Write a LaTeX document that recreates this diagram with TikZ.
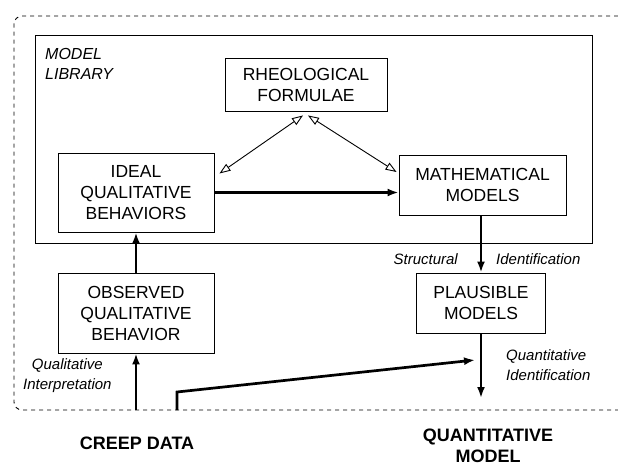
\documentclass[tikz,border=0pt]{standalone}
\usepackage{fontspec}
\setmainfont{Liberation Sans}
\setsansfont{Liberation Sans}
\usetikzlibrary{arrows.meta,calc}
\tikzset{
  box/.style={draw, line width=0.9pt, align=center, inner sep=0pt,
    font=\fontsize{17.5}{21}\selectfont},
  thickarrow/.style={line width=2.7pt, -{Latex[length=11pt,width=8pt]}},
  openarrow/.style={line width=0.9pt, {Triangle[open,length=11pt,width=8pt,line width=0.9pt]}-{Triangle[open,length=11pt,width=8pt,line width=0.9pt]}},
  lbl/.style={font=\fontsize{15}{20}\selectfont\itshape, inner sep=0pt},
  big/.style={font=\fontsize{18}{21.5}\selectfont\bfseries, align=center, inner sep=0pt}
}
\begin{document}
\begin{tikzpicture}[x=1pt,y=-1pt]
\useasboundingbox (0,0) rectangle (618,466);
% outer dashed frame
\draw[dash pattern=on 4pt off 4pt, line width=0.9pt, rounded corners=8pt]
  (618,16) -- (14,16) -- (14,410) -- (618,410);
% model library frame
\draw[line width=1pt] (35,35) rectangle (592,243);
\node[lbl, anchor=north west, align=left, font=\fontsize{16}{20}\selectfont\itshape] (lib) at (45,48) {MODEL\\LIBRARY};

\node[box, minimum width=162pt, minimum height=53pt] (rheo) at (306,84.5) {RHEOLOGICAL\\FORMULAE};
\node[box, minimum width=156pt, minimum height=79pt] (ideal) at (136,192.5) {IDEAL\\QUALITATIVE\\BEHAVIORS};
\node[box, minimum width=167pt, minimum height=60pt] (math) at (482.5,185) {MATHEMATICAL\\MODELS};
\node[box, minimum width=129pt, minimum height=60pt] (plaus) at (481,303) {PLAUSIBLE\\MODELS};
\node[box, minimum width=156pt, minimum height=80pt] (obs) at (136,313) {OBSERVED\\QUALITATIVE\\BEHAVIOR};

% connectors
\draw[thickarrow] (ideal.east) -- (math.west |- ideal.east);
\draw[openarrow] ($(rheo.south)+(-3,4)$) -- ($(ideal.east)+(5,-19)$);
\draw[openarrow] ($(rheo.south)+(2,4)$) -- ($(math.west)+(-2,-13)$);
\draw[thickarrow] (plaus.north |- math.south) -- (plaus.north);
\coordinate (qend) at (481,398);
\draw[thickarrow] (plaus.south) -- (qend);
\draw[thickarrow] (obs.north) -- (ideal.south);
\coordinate (cstart) at (136,410);
\draw[thickarrow] (cstart) -- (obs.south);
\coordinate (c2a) at (177,410);
\coordinate (c2b) at (177,392);
\coordinate (c2c) at (475,360);
\draw[thickarrow] (c2a) -- (c2b) -- (c2c);

% labels
\node[lbl, anchor=east] (struct) at (458,259) {Structural};
\node[lbl, anchor=west] (ident) at (496,259) {Identification};
\node[lbl, anchor=west, align=left] (quant) at (506,365) {Quantitative\\Identification};
\node[lbl, anchor=west, align=center] (qual) at (23,376) {Qualitative\\Interpretation};

\node[big] (creep) at (137,443) {CREEP DATA};
\node[big] (qmodel) at (488,446) {QUANTITATIVE\\MODEL};
\end{tikzpicture}
\end{document}
